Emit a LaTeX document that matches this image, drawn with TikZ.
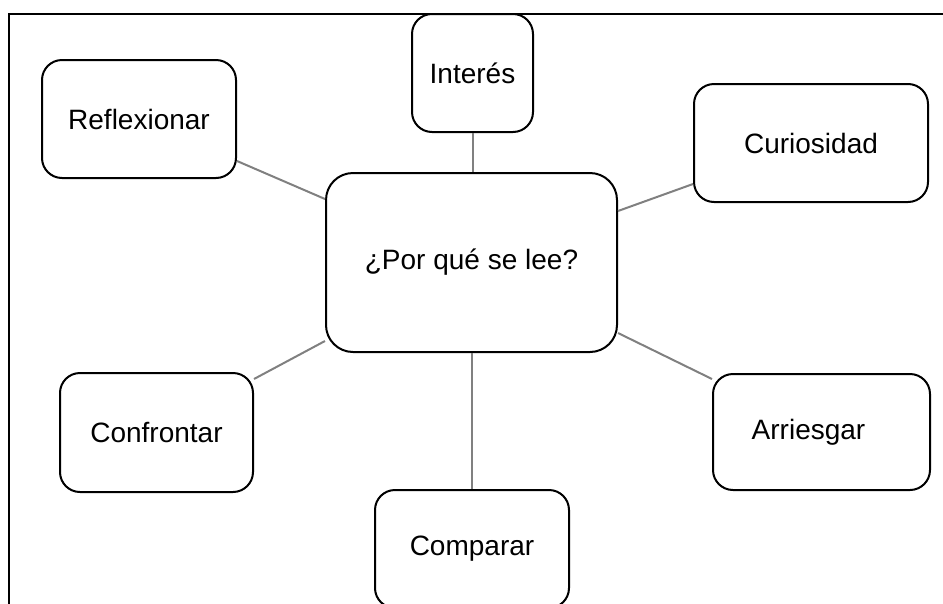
\documentclass[tikz,border=0pt]{standalone}
\usepackage{fontspec}
\setmainfont{Liberation Sans}
\begin{document}
\begin{tikzpicture}[x=1pt,y=-1pt,
  box/.style={draw=black, line width=2pt, rounded corners=20pt, fill=white, inner sep=0pt, align=center, font=\fontsize{28}{32}\selectfont},
  link/.style={draw=black!50, line width=2pt},
  frame/.style={draw=black, line width=2.5pt}]
\useasboundingbox (0,0) rectangle (943,603);
\clip (0,0) rectangle (943,603);
\draw[frame] (9,604) -- (9,14) -- (944,14);
\node[box, minimum width=194pt, minimum height=118pt] (refl) at (139,119) {Reflexionar};
\node[box, minimum width=121pt, minimum height=118pt] (inte) at (472.5,73) {Interés};
\node[box, minimum width=234pt, minimum height=118pt] (curi) at (811,143) {Curiosidad};
\node[box, minimum width=291pt, minimum height=179pt, rounded corners=27pt] (cent) at (471.5,262.5) {¿Por qué se lee?};
\node[box, minimum width=193pt, minimum height=119pt] (conf) at (156.5,432.5) {Confrontar};
\node[box, minimum width=217pt, minimum height=116pt] (arri) at (821.5,432) {\hspace*{-26pt}Arriesgar};
\node[box, minimum width=194pt, minimum height=118pt] (comp) at (472,549) {Comparar};
\draw[link] (refl.east |- 0,161) -- (cent.west |- 0,199);
\draw[link] (inte.south) -- (cent.north -| inte.south);
\draw[link] (curi.west |- 0,184) -- (cent.east |- 0,211);
\draw[link] (cent.east |- 0,333) -- (arri.west |- 0,379);
\draw[link] (cent.west |- 0,341) -- (conf.east |- 0,379);
\draw[link] (cent.south -| comp.north) -- (comp.north);
\end{tikzpicture}
\end{document}
